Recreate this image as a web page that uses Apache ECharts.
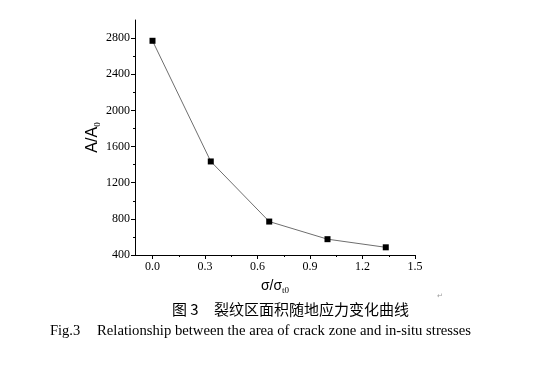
<!DOCTYPE html>
<html><head><meta charset="utf-8">
<script src="https://cdn.jsdelivr.net/npm/echarts@6/dist/echarts.min.js"></script>
<style>html,body{margin:0;padding:0;background:#fff}#c{width:533px;height:368px}</style>
</head><body><div id="c"></div>
<script>
const xValues = [0, 0.333, 0.667, 1.0, 1.333];
const yValues = [2770, 1435, 770, 575, 485];
const xTicks = [0, 0.3, 0.6, 0.9, 1.2, 1.5];
const xMinorTicks = [0.15, 0.45, 0.75, 1.05, 1.35];
const yTicks = [400, 800, 1200, 1600, 2000, 2400, 2800];
const yMinorTicks = [600, 1000, 1400, 1800, 2200, 2600];
const captionCNLabel = '图 3';
const captionCN = '裂纹区面积随地应力变化曲线';
const captionENLabel = 'Fig.3';
const captionEN = 'Relationship between the area of crack zone and in-situ stresses';

const serif = '"Liberation Serif", "Times New Roman", serif';
const sans = '"Liberation Sans", Arial, sans-serif';
const cjk = '"Noto Sans CJK SC", sans-serif';
const chart = echarts.init(document.getElementById('c'), null, {renderer: 'canvas'});
const axisLineBase = {show: true, onZero: false, lineStyle: {color: '#000', width: 1}};
chart.setOption({
  animation: false,
  grid: {left: 135, right: 118, top: 20, bottom: 113},
  xAxis: [
    {
      type: 'value', min: -0.1, max: 1.5,
      axisLine: axisLineBase, splitLine: {show: false},
      name: '{a|σ/σ}{s|t0}', nameLocation: 'middle', nameGap: 22, nameMoveOverlap: false,
      nameTextStyle: {rich: {
        a: {fontFamily: sans, fontSize: 14, color: '#000'},
        s: {fontFamily: serif, fontSize: 9, color: '#000', verticalAlign: 'bottom', padding: [9, 0, 0, 0]}
      }},
      axisTick: {show: true, inside: false, length: 4, customValues: xTicks, lineStyle: {color: '#000'}},
      axisLabel: {customValues: xTicks, fontFamily: serif, fontSize: 12, color: '#000', margin: 6,
        formatter: v => v.toFixed(1)}
    },
    {
      type: 'value', min: -0.1, max: 1.5, position: 'bottom',
      axisLine: {show: false, onZero: false}, splitLine: {show: false},
      axisTick: {show: true, inside: false, length: 2, customValues: xMinorTicks, lineStyle: {color: '#000'}},
      axisLabel: {show: false}
    }
  ],
  yAxis: [
    {
      type: 'value', min: 400, max: 3000,
      axisLine: axisLineBase, splitLine: {show: false},
      name: '{a|A/A}{s|0}', nameLocation: 'middle', nameGap: 33, nameRotate: 90, nameMoveOverlap: false,
      nameTextStyle: {rich: {
        a: {fontFamily: sans, fontSize: 16, color: '#000'},
        s: {fontFamily: serif, fontSize: 9, color: '#000', verticalAlign: 'bottom', padding: [10, 0, 0, 0]}
      }},
      axisTick: {show: true, inside: false, length: 4, customValues: yTicks, lineStyle: {color: '#000'}},
      axisLabel: {customValues: yTicks, fontFamily: serif, fontSize: 12, color: '#000', margin: 5,
        formatter: v => String(v)}
    },
    {
      type: 'value', min: 400, max: 3000, position: 'left',
      axisLine: {show: false, onZero: false}, splitLine: {show: false},
      axisTick: {show: true, inside: false, length: 2, customValues: yMinorTicks, lineStyle: {color: '#000'}},
      axisLabel: {show: false}
    }
  ],
  series: [{
    type: 'line',
    data: xValues.map((x, i) => [x, yValues[i]]),
    symbol: 'rect', symbolSize: 6,
    itemStyle: {color: '#000'},
    lineStyle: {color: '#6e6e6e', width: 1},
    showAllSymbol: true
  }],
  graphic: [
    {type: 'text', left: 172, top: 302, style: {text: captionCNLabel, fontFamily: cjk, fontSize: 15, fill: '#000'}},
    {type: 'text', left: 214, top: 302, style: {text: captionCN, fontFamily: cjk, fontSize: 15, fill: '#000'}},
    {type: 'text', left: 50, top: 324, style: {text: captionENLabel, fontFamily: serif, fontSize: 14.5, fill: '#000'}},
    {type: 'text', left: 97, top: 324, style: {text: captionEN, fontFamily: serif, fontSize: 14.7, fill: '#000'}},
    {type: 'text', left: 437, top: 293, style: {text: '↵', fontFamily: serif, fontSize: 7, fill: '#999'}}
  ]
});
</script></body></html>
